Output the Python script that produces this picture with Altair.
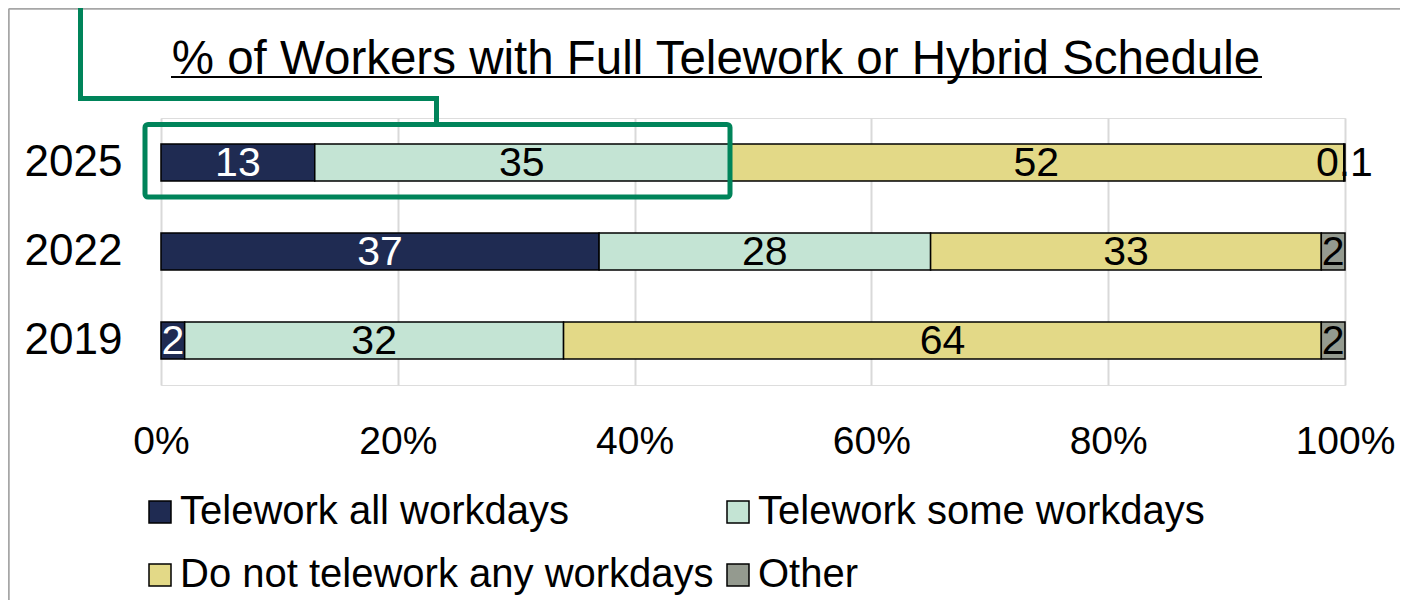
import altair as alt
import pandas as pd

years = ["2025", "2022", "2019"]
categories = ["Telework all workdays", "Telework some workdays",
              "Do not telework any workdays", "Other"]
colors = ["#1F2B52", "#C4E4D4", "#E3D987", "#949A8F"]
values_2025 = [13, 35, 52, 0.1]
values_2022 = [37, 28, 33, 2]
values_2019 = [2, 32, 64, 2]
x_ticks = [0, 0.2, 0.4, 0.6, 0.8, 1.0]
title_text = "% of Workers with Full Telework or Hybrid Schedule"

rows = []
for year, vals in zip(years, [values_2025, values_2022, values_2019]):
    for i, (cat, v) in enumerate(zip(categories, vals)):
        rows.append({"year": year, "category": cat, "value": v,
                     "order": i, "label": f"{v:g}"})
df = pd.DataFrame(rows)

FONT = "Liberation Sans"
GREEN = "#00845A"
W, H = 1184, 267

base = alt.Chart(df).transform_stack(
    stack="value", groupby=["year"], as_=["x0", "x1"],
    sort=[alt.SortField("order")], offset="normalize"
).transform_calculate(mid="(datum.x0 + datum.x1) / 2")

xscale = alt.Scale(domain=[0, 1], nice=False)
yenc = alt.Y("year:N", sort=years, title=None,
             scale=alt.Scale(paddingInner=0, paddingOuter=0),
             axis=alt.Axis(labelFontSize=44, labelPadding=39, ticks=False,
                           domain=False, grid=False, labelColor="black",
                           labelFont=FONT))

bars = base.mark_bar(size=37, stroke="black", strokeWidth=1.5).encode(
    x=alt.X("x0:Q", scale=xscale, title=None,
            axis=alt.Axis(values=x_ticks, format=".0%", labelFontSize=39,
                          labelPadding=37, ticks=False, tickSize=0,
                          labelFlush=False,
                          domain=False, grid=True, gridColor="#D9D9D9",
                          gridWidth=2, labelColor="black", labelFont=FONT)),
    x2="x1:Q",
    y=yenc,
    color=alt.Color("category:N", scale=alt.Scale(domain=categories, range=colors),
                    sort=categories,
                    legend=alt.Legend(title=None, orient="none", legendX=-21,
                                      legendY=374, columns=2, direction="horizontal",
                                      symbolType="square",
                                      symbolSize=484, symbolStrokeColor="black",
                                      symbolStrokeWidth=1.5, labelFontSize=40,
                                      labelFont=FONT, labelColor="black",
                                      labelLimit=1000, labelOffset=0,
                                      columnPadding=4, rowPadding=23,
                                      padding=0, symbolOpacity=1)),
    order=alt.Order("order:Q"),
)

labels = base.mark_text(fontSize=41, baseline="middle", align="center",
                        dy=1, font=FONT).encode(
    x=alt.X("mid:Q", scale=xscale),
    y=alt.Y("year:N", sort=years),
    text="label:N",
    color=alt.condition(alt.datum.category == categories[0],
                        alt.value("white"), alt.value("black")),
)

one = pd.DataFrame({"a": [0]})
deco = alt.Chart(one)

title = deco.mark_text(fontSize=47.5, font=FONT, baseline="alphabetic",
                       align="center", color="black").encode(
    x=alt.value(555), y=alt.value(-44), text=alt.value(title_text))
underline = deco.mark_rule(color="black", strokeWidth=2).encode(
    x=alt.value(10), x2=alt.value(1101), y=alt.value(-41))

box = deco.mark_rect(fill=None, fillOpacity=0, stroke=GREEN, strokeWidth=5,
                     cornerRadius=3).encode(
    x=alt.value(-16), x2=alt.value(569), y=alt.value(6.5), y2=alt.value(79))
c1 = deco.mark_rule(color=GREEN, strokeWidth=5, strokeCap="square").encode(
    x=alt.value(-80.5), y=alt.value(-112), y2=alt.value(-19.5))
c2 = deco.mark_rule(color=GREEN, strokeWidth=5, strokeCap="square").encode(
    x=alt.value(-80.5), x2=alt.value(275.5), y=alt.value(-19.5))
c3 = deco.mark_rule(color=GREEN, strokeWidth=5, strokeCap="square").encode(
    x=alt.value(275.5), y=alt.value(-19.5), y2=alt.value(6.5))

border_left = deco.mark_rule(color="#A6A6A6", strokeWidth=2.5).encode(
    x=alt.value(-152.5), y=alt.value(-109), y2=alt.value(500))
border_top = deco.mark_rule(color="#A6A6A6", strokeWidth=2.5).encode(
    x=alt.value(-152.5), x2=alt.value(1260), y=alt.value(-109.5))

chart = alt.layer(border_left, border_top, bars, labels, title, underline,
                  box, c1, c2, c3).properties(
    width=W, height=H,
    autosize=alt.AutoSizeParams(type="none"),
    padding={"left": 153, "top": 110, "right": 55, "bottom": 215},
    background="white",
).configure_view(stroke=None).configure(font=FONT)

chart.save("out.html", embed_options={"renderer": "svg", "actions": False})
